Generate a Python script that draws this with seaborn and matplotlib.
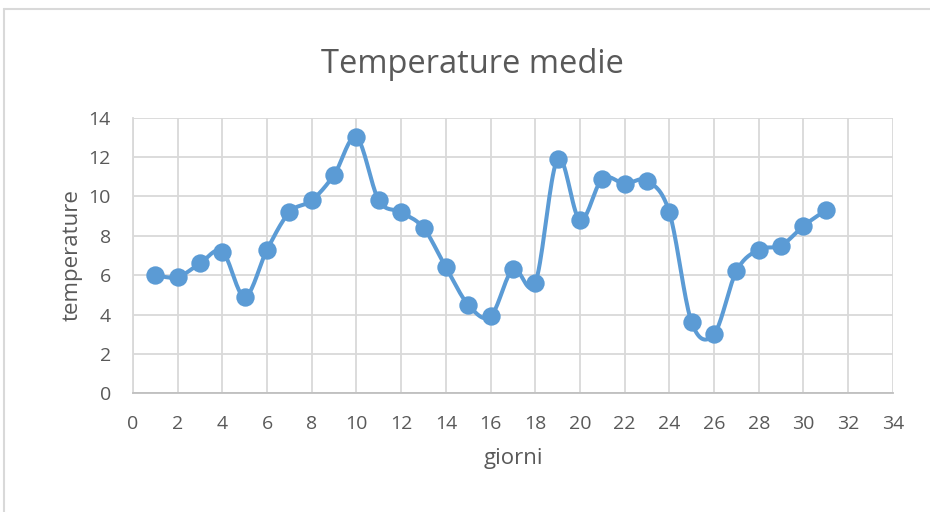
import numpy as np
import pandas as pd
import seaborn as sns
import matplotlib.pyplot as plt
from matplotlib.lines import Line2D
from matplotlib.ticker import MultipleLocator

# Data
giorni = list(range(1, 32))
temperature = [6.0, 5.9, 6.6, 7.2, 4.9, 7.3, 9.2, 9.8, 11.1, 13.0,
               9.8, 9.2, 8.4, 6.4, 4.5, 3.9, 6.3, 5.6, 11.9, 8.8,
               10.9, 10.65, 10.8, 9.2, 3.6, 3.0, 6.2, 7.3, 7.5, 8.5, 9.3]

df = pd.DataFrame({'giorni': giorni, 'temperature': temperature})


def smooth_curve(x, y, n=20):
    # Excel-like smoothed line: cubic Bezier segments with Catmull-Rom control points
    x = np.asarray(x, float)
    y = np.asarray(y, float)
    px = np.concatenate([[x[0]], x, [x[-1]]])
    py = np.concatenate([[y[0]], y, [y[-1]]])
    xs, ys = [], []
    t = np.linspace(0, 1, n)
    for i in range(1, len(px) - 2):
        p0 = np.array([px[i], py[i]])
        p3 = np.array([px[i + 1], py[i + 1]])
        c1 = p0 + (p3 - np.array([px[i - 1], py[i - 1]])) / 6
        c2 = p3 - (np.array([px[i + 2], py[i + 2]]) - p0) / 6
        seg = ((1 - t) ** 3)[:, None] * p0 + (3 * (1 - t) ** 2 * t)[:, None] * c1 \
            + (3 * (1 - t) * t ** 2)[:, None] * c2 + (t ** 3)[:, None] * p3
        xs.extend(seg[:, 0])
        ys.extend(seg[:, 1])
    return pd.DataFrame({'giorni': xs, 'temperature': ys})


curve = smooth_curve(df['giorni'], df['temperature'])

sns.set_style('white')
plt.rcParams['font.family'] = ['Open Sans', 'DejaVu Sans']

blue = '#5b9bd5'
grid = '#d9d9d9'
text = '#595959'

fig, ax = plt.subplots(figsize=(9.3, 5.12), dpi=100)
fig.subplots_adjust(left=0.143, right=0.960, bottom=0.232, top=0.770)

# chart border (only left and top edges are visible in the crop)
fig.lines.append(Line2D([0.0045, 0.0045], [0, 0.982], transform=fig.transFigure,
                        color=grid, linewidth=1.5))
fig.lines.append(Line2D([0.0045, 1], [0.982, 0.982], transform=fig.transFigure,
                        color=grid, linewidth=1.5))

sns.lineplot(data=curve, x='giorni', y='temperature', ax=ax, color=blue,
             linewidth=2.9, sort=False, estimator=None, zorder=3)
sns.scatterplot(data=df, x='giorni', y='temperature', ax=ax, color=blue,
                s=175, edgecolor=blue, linewidth=0, zorder=4)

ax.set_xlim(0, 34)
ax.set_ylim(0, 14)
ax.xaxis.set_major_locator(MultipleLocator(2))
ax.xaxis.set_minor_locator(MultipleLocator(0.4))
ax.yaxis.set_major_locator(MultipleLocator(2))

ax.grid(True, which='major', color=grid, linewidth=1.3)
ax.set_axisbelow(True)

for side in ['top', 'right']:
    ax.spines[side].set_visible(False)
ax.spines['left'].set_color(grid)
ax.spines['bottom'].set_color('#bfbfbf')
ax.spines['left'].set_linewidth(1.3)
ax.spines['bottom'].set_linewidth(1.3)

ax.tick_params(axis='x', which='major', direction='out', length=4.5, width=1.3,
               color='#bfbfbf', labelsize=14, labelcolor=text, pad=11)
ax.tick_params(axis='x', which='minor', direction='in', length=3.5, width=1.1,
               color='#bfbfbf')
ax.tick_params(axis='y', which='major', length=0, labelsize=14, labelcolor=text, pad=16)

ax.set_xlabel('giorni', fontsize=16, color=text, labelpad=11)
ax.set_ylabel('temperature', fontsize=16, color=text, labelpad=4)
fig.text(0.5075, 0.857, 'Temperature medie', fontsize=23.5, color=text,
         ha='center', va='baseline')

fig.savefig('out.png', dpi=100)
